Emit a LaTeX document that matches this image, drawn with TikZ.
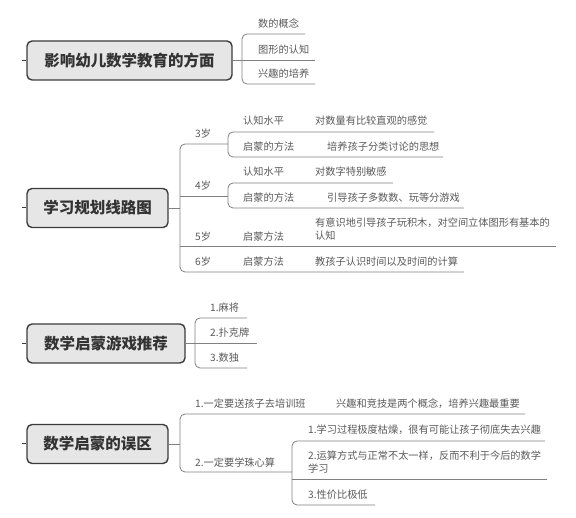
\documentclass[tikz,border=0pt]{standalone}
\usepackage{fontspec}
\newfontfamily\cjk{Noto Sans CJK SC}
\definecolor{boxfill}{HTML}{E6E6E6}
\definecolor{boxline}{HTML}{3C3C3C}
\definecolor{titletext}{HTML}{333333}
\definecolor{lbltext}{HTML}{5A5A5A}
\definecolor{linecol}{HTML}{808080}
\begin{document}
\begin{tikzpicture}[x=1pt,y=-1pt,
  title/.style={draw=boxline, fill=boxfill, line width=1.4pt, rounded corners=5pt,
    font=\cjk\bfseries\fontsize{15.5}{18}\selectfont, text=titletext, inner sep=0pt, minimum height=39pt},
  lbl/.style={anchor=west, font=\cjk\fontsize{10.2}{13}\selectfont, text=lbltext, inner sep=0pt, align=left},
  conn/.style={draw=linecol, line width=0.8pt, rounded corners=5pt},
  stub/.style={draw=boxline, line width=1pt}]
\useasboundingbox[fill=white] (0,0) rectangle (576,518);

% ---------- Section 1 ----------
\node[title, minimum width=205pt] (t1) at (129.5,60.5) {影响幼儿数学教育的方面};
\coordinate (p1) at (22,60.5);
\draw[stub] (p1) -- (t1.west);
\coordinate (b1) at (242,60.5);
\draw[conn] (t1.east) -- (b1);
\node[lbl] (a11) at (258,24) {数的概念};
\node[lbl] (a12) at (258,50) {图形的认知};
\node[lbl] (a13) at (258,74) {兴趣的培养};
\coordinate (e11) at (305,34);
\coordinate (e12) at (315,60.5);
\coordinate (e13) at (315,84);
\draw[conn] (b1) |- (e11);
\draw[conn] (b1) -- (e12);
\draw[conn] (b1) |- (e13);

% ---------- Section 2 ----------
\node[title, minimum width=141pt] (t2) at (97.5,208) {学习规划线路图};
\coordinate (p2) at (22,208);
\draw[stub] (p2) -- (t2.west);
\coordinate (b2) at (180,208);
\draw[conn] (t2.east) -- (b2);
% 3 years
\coordinate (s3) at (228,144);
\draw[conn] (b2) |- (s3);
\node[lbl] (y3) at (195,134) {3岁};
\node[lbl] (k3) at (243,121) {认知水平};
\node[lbl] (k3d) at (315,121) {对数量有比较直观的感觉};
\node[lbl] (m3) at (243,147) {启蒙的方法};
\node[lbl] (m3d) at (327,147) {培养孩子分类讨论的思想};
\coordinate (e3a) at (434,132);
\coordinate (e3b) at (443,157);
\draw[conn] (s3) |- (e3a);
\draw[conn] (s3) |- (e3b);
% 4 years
\coordinate (j4) at (180,196);
\coordinate (s4) at (228,196);
\draw[conn] (j4) -- (s4);
\node[lbl] (y4) at (195,186) {4岁};
\node[lbl] (k4) at (243,172) {认知水平};
\node[lbl] (k4d) at (315,172) {对数字特别敏感};
\node[lbl] (m4) at (243,198) {启蒙的方法};
\node[lbl] (m4d) at (327,198) {引导孩子多数数、玩等分游戏};
\coordinate (e4a) at (393,183);
\coordinate (e4b) at (464,208);
\draw[conn] (s4) |- (e4a);
\draw[conn] (s4) |- (e4b);
% 5 years
\coordinate (j5) at (180,246);
\coordinate (e5) at (556,246);
\draw[conn] (j5) -- (e5);
\node[lbl] (y5) at (195,237) {5岁};
\node[lbl] (m5) at (243,237) {启蒙方法};
\node[lbl] (m5d) at (315,229.5) {有意识地引导孩子玩积木，对空间立体图形有基本的\\认知};
% 6 years
\coordinate (e6) at (464,272);
\draw[conn] (b2) |- (e6);
\node[lbl] (y6) at (195,262) {6岁};
\node[lbl] (m6) at (243,262) {启蒙方法};
\node[lbl] (m6d) at (315,262) {教孩子认识时间以及时间的计算};

% ---------- Section 3 ----------
\node[title, minimum width=158pt] (t3) at (106,343.5) {数学启蒙游戏推荐};
\coordinate (p3) at (22,343.5);
\draw[stub] (p3) -- (t3.west);
\coordinate (b3) at (195,343.5);
\draw[conn] (t3.east) -- (b3);
\node[lbl] (g1) at (210,308) {1.麻将};
\node[lbl] (g2) at (210,333) {2.扑克牌};
\node[lbl] (g3) at (210,358) {3.数独};
\coordinate (e31) at (247,318);
\coordinate (e32) at (257,343.5);
\coordinate (e33) at (247,368);
\draw[conn] (b3) |- (e31);
\draw[conn] (b3) -- (e32);
\draw[conn] (b3) |- (e33);

% ---------- Section 4 ----------
\node[title, minimum width=141pt] (t4) at (97.5,444) {数学启蒙的误区};
\coordinate (p4) at (22,444);
\draw[stub] (p4) -- (t4.west);
\coordinate (b4) at (180,444);
\draw[conn] (t4.east) -- (b4);
\node[lbl] (w1) at (195,404) {1.一定要送孩子去培训班};
\node[lbl] (w1d) at (336,404) {兴趣和竞技是两个概念，培养兴趣最重要};
\coordinate (e41) at (525,414);
\draw[conn] (b4) |- (e41);
\node[lbl] (w2) at (195,463) {2.一定要学珠心算};
\coordinate (s42) at (292,472);
\draw[conn] (b4) |- (s42);
\node[lbl] (r1) at (308,430) {1.学习过程极度枯燥，很有可能让孩子彻底失去兴趣};
\node[lbl] (r2) at (308,462) {2.运算方式与正常不太一样，反而不利于今后的数学\\学习};
\node[lbl] (r3) at (308,495) {3.性价比极低};
\coordinate (e4r1) at (545,441);
\coordinate (j4r2) at (292,479);
\coordinate (e4r2) at (547,479);
\coordinate (e4r3) at (375,505);
\draw[conn] (s42) |- (e4r1);
\draw[conn] (j4r2) -- (e4r2);
\draw[conn] (s42) |- (e4r3);
\end{tikzpicture}
\end{document}
